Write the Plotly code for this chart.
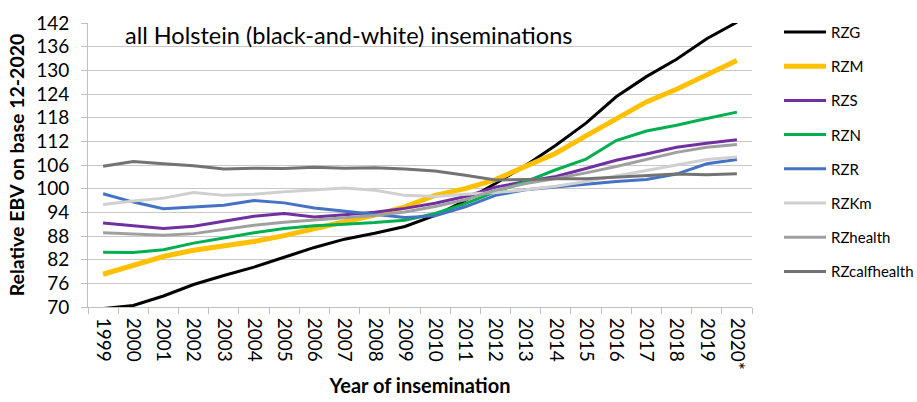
import plotly.graph_objects as go

# Insemination years (category axis); the last year is preliminary
years = ["1999", "2000", "2001", "2002", "2003", "2004", "2005", "2006", "2007",
         "2008", "2009", "2010", "2011", "2012", "2013", "2014", "2015", "2016",
         "2017", "2018", "2019", "2020*"]

# Relative breeding values (EBV, base 12-2020) per index
rzg = [69.6, 70.4, 72.8, 75.7, 78.0, 80.1, 82.6, 85.1, 87.2, 88.7, 90.4, 93.2,
       97.0, 101.3, 105.9, 111.0, 116.6, 123.3, 128.4, 132.8, 138.0, 142.2]
rzm = [78.3, 80.4, 82.8, 84.4, 85.5, 86.6, 88.1, 90.0, 91.6, 93.3, 95.4, 98.3,
       100.0, 102.3, 105.6, 109.0, 113.4, 117.8, 122.0, 125.2, 129.0, 132.5]
rzs = [91.3, 90.6, 89.9, 90.5, 91.7, 93.0, 93.7, 92.8, 93.4, 94.0, 95.0, 96.3,
       98.0, 100.4, 101.8, 103.1, 105.1, 107.2, 108.8, 110.5, 111.5, 112.4]
rzn = [83.9, 83.8, 84.5, 86.2, 87.5, 88.8, 89.9, 90.6, 91.0, 91.4, 92.0, 93.7,
       96.2, 99.2, 101.8, 104.8, 107.5, 112.2, 114.6, 116.1, 117.8, 119.4]
rzr = [98.7, 96.6, 94.9, 95.4, 95.8, 97.0, 96.4, 95.1, 94.3, 93.5, 92.7, 93.1,
       95.4, 98.3, 99.7, 100.4, 101.1, 101.8, 102.3, 103.7, 106.3, 107.4]
rzkm = [96.0, 96.9, 97.6, 99.0, 98.3, 98.6, 99.2, 99.7, 100.2, 99.6, 98.3, 98.0,
        98.6, 99.0, 99.7, 100.6, 101.8, 103.2, 104.6, 105.9, 107.4, 108.0]
rzhealth = [88.8, 88.5, 88.2, 88.6, 89.6, 90.7, 91.5, 92.0, 92.6, 93.2, 94.1, 95.5,
            97.2, 99.6, 101.3, 102.6, 104.0, 105.6, 107.4, 109.2, 110.5, 111.2]
rzcalfhealth = [105.7, 106.9, 106.3, 105.8, 105.0, 105.2, 105.1, 105.4, 105.2, 105.3,
                105.0, 104.5, 103.4, 102.2, 102.3, 102.5, 102.5, 102.9, 103.3, 103.7,
                103.5, 103.8]

y_ticks = list(range(70, 143, 6))

series = [
    ("RZG", rzg, "#000000", 3),
    ("RZM", rzm, "#FFC000", 5),
    ("RZS", rzs, "#7030A0", 3),
    ("RZN", rzn, "#00B050", 3),
    ("RZR", rzr, "#4472C4", 3),
    ("RZKm", rzkm, "#D0D0D0", 3),
    ("RZhealth", rzhealth, "#A0A0A0", 3),
    ("RZcalfhealth", rzcalfhealth, "#737373", 3),
]

FONT = "Lato"

# Layout geometry (pixels) used for the key at the right
W, H = 917, 402
M_L, M_R, M_T, M_B = 88, 165, 23, 95
PW, PH = W - M_L - M_R, H - M_T - M_B


def px_x(x):
    return (x - M_L) / PW


def px_y(y):
    return (H - M_B - y) / PH


fig = go.Figure()
for name, vals, color, width in series:
    fig.add_trace(go.Scatter(
        x=years, y=vals, name=name, mode="lines",
        line=dict(color=color, width=width),
    ))

# Key: a short line sample and the series name for each index
shapes, annotations = [], []
for i, (name, vals, color, width) in enumerate(series):
    yc = px_y(32 + 34.2 * i)
    shapes.append(dict(
        type="line", xref="paper", yref="paper",
        x0=px_x(784), x1=px_x(826), y0=yc, y1=yc,
        line=dict(color=color, width=width),
    ))
    annotations.append(dict(
        text=name, xref="paper", yref="paper", x=px_x(829), y=yc,
        xanchor="left", yanchor="middle", showarrow=False,
        font=dict(family=FONT, size=15, color="black"),
    ))

annotations.append(dict(
    text="all Holstein (black-and-white) inseminations",
    xref="paper", yref="paper", x=0.053, y=0.958,
    xanchor="left", yanchor="middle", showarrow=False,
    font=dict(family=FONT, size=23.5, color="black"),
))

fig.update_layout(
    width=W, height=H,
    margin=dict(l=M_L, r=M_R, t=M_T, b=M_B),
    paper_bgcolor="white", plot_bgcolor="white",
    font=dict(family=FONT, color="black"),
    showlegend=False,
    xaxis=dict(
        type="category", range=[-0.5, len(years) - 0.5], automargin=False,
        tickson="boundaries", ticks="outside", ticklen=6, tickcolor="#BFBFBF",
        showline=True, linecolor="#BFBFBF", linewidth=1,
        showgrid=False, tickangle=90, ticklabelstandoff=6,
        tickfont=dict(family=FONT, size=19),
        title=dict(text="<b>Year of insemination</b>",
                   font=dict(family=FONT, size=20), standoff=10),
    ),
    yaxis=dict(
        range=[70, 142], tickvals=y_ticks, ticks="outside", ticklen=6,
        automargin=False,
        tickcolor="#BFBFBF", showline=True, linecolor="#BFBFBF", linewidth=1,
        showgrid=True, gridcolor="#C8C8C8", gridwidth=1, zeroline=False,
        ticklabelstandoff=8,
        tickfont=dict(family=FONT, size=19),
        title=dict(text="<b>Relative EBV on base 12-2020</b>",
                   font=dict(family=FONT, size=19.5), standoff=6),
    ),
    shapes=shapes,
    annotations=annotations,
)

fig.write_html("out.html")
